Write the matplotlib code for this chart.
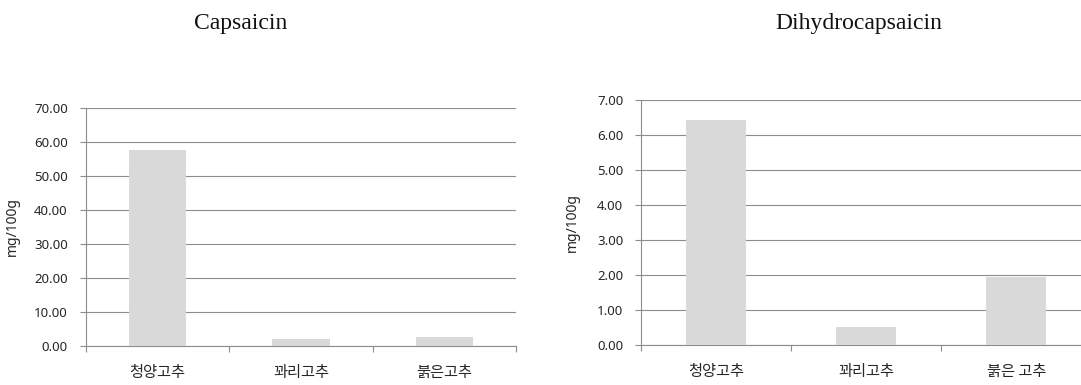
import matplotlib
matplotlib.use("Agg")
import matplotlib.pyplot as plt
from matplotlib.ticker import FixedLocator, FormatStrFormatter

plt.rcParams["font.family"] = ["Noto Sans CJK KR", "DejaVu Sans"]

# capsaicinoid content per pepper variety (mg/100g)
varieties_cap = ["청양고추", "꽈리고추", "붉은고추"]
capsaicin = [57.5, 2.05, 2.65]
varieties_dihydro = ["청양고추", "꽈리고추", "붉은 고추"]
dihydrocapsaicin = [6.42, 0.51, 1.93]

cap_ticks = [0, 10, 20, 30, 40, 50, 60, 70]
dihydro_ticks = [0, 1, 2, 3, 4, 5, 6, 7]

BAR = "#d9d9d9"
GRID = "#8c8c8c"
TEXT = "#262626"
W, H = 1081, 385


def excel_bar(ax, labels, values, yticks):
    x = range(len(labels))
    ax.bar(x, values, width=0.4, color=BAR, zorder=3)
    ax.set_xlim(-0.5, len(labels) - 0.5)
    ax.set_ylim(yticks[0], yticks[-1])
    ax.yaxis.set_major_locator(FixedLocator(yticks))
    ax.yaxis.set_major_formatter(FormatStrFormatter("%.2f"))
    ax.grid(axis="y", color=GRID, linewidth=0.8, zorder=0)
    ax.set_axisbelow(True)

    ax.set_xticks(list(x))
    ax.set_xticklabels(labels, fontsize=11, color=TEXT)
    ax.set_xticks([i - 0.5 for i in range(len(labels) + 1)], minor=True)
    ax.tick_params(axis="x", which="major", length=0, pad=13)
    ax.tick_params(axis="x", which="minor", length=4, color=GRID, width=0.8)
    ax.tick_params(axis="y", length=4, color=GRID, width=0.8, pad=9,
                   labelsize=9.5, labelcolor=TEXT)
    for lbl in ax.get_yticklabels():
        lbl.set_family("Noto Sans")

    for s in ("top", "right"):
        ax.spines[s].set_visible(False)
    for s in ("left", "bottom"):
        ax.spines[s].set_color(GRID)
        ax.spines[s].set_linewidth(0.8)
    ax.set_ylabel("mg/100g", fontsize=10, color=TEXT, family="Noto Sans")


fig = plt.figure(figsize=(W / 100, H / 100), dpi=100)

ax1 = fig.add_axes([85.7 / W, (H - 346) / H, 430.3 / W, 238.3 / H])
excel_bar(ax1, varieties_cap, capsaicin, cap_ticks)
ax1.yaxis.set_label_coords(-0.153, 0.5)

# second panel runs past the right edge of the canvas
ax2 = fig.add_axes([641.3 / W, (H - 345) / H, 450 / W, 245.3 / H])
excel_bar(ax2, varieties_dihydro, dihydrocapsaicin, dihydro_ticks)
ax2.yaxis.set_label_coords(-0.136, 0.5)

fig.text(241 / W, 1 - 23 / H, "Capsaicin", family="Liberation Serif",
         fontsize=17, ha="center", va="center", color="#111111")
fig.text(859 / W, 1 - 23 / H, "Dihydrocapsaicin", family="Liberation Serif",
         fontsize=17, ha="center", va="center", color="#111111")

fig.savefig("out.png", dpi=100, facecolor="white")
plt.close(fig)
